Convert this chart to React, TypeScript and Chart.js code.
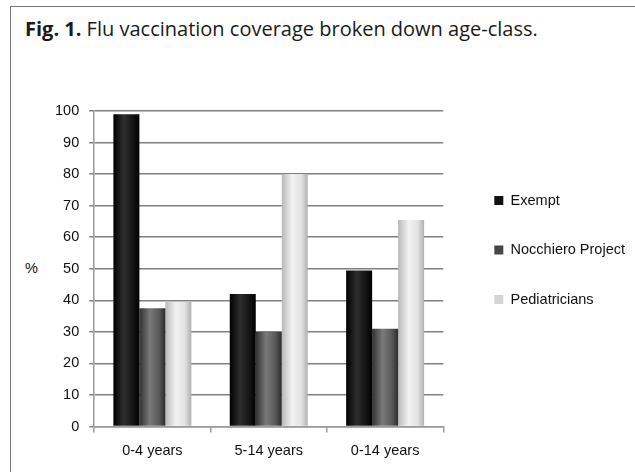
import React, { useEffect, useRef } from 'react';
import { Chart, registerables } from 'chart.js';

Chart.register(...registerables);

const categories = ['0-4 years', '5-14 years', '0-14 years'];
const seriesNames = ['Exempt', 'Nocchiero Project', 'Pediatricians'];
const exempt = [99, 42, 49.5];
const nocchiero = [37.5, 30, 31];
const pediatricians = [39.5, 80, 65.5];
const yMin = 0;
const yMax = 100;
const yStep = 10;

const solidColors = ['#111111', '#454545', '#d4d4d4'];
const cylinderStops: string[][] = [
  ['#000000', '#2e2e2e', '#151515', '#000000'],
  ['#303030', '#7a7a7a', '#5a5a5a', '#2c2c2c'],
  ['#b8b8b8', '#f2f2f2', '#e2e2e2', '#b0b0b0'],
];

const FONT = '"Liberation Sans", Arial, sans-serif';

const cylinderPlugin = {
  id: 'cylinderShade',
  beforeDatasetsDraw(chart: any) {
    const ctx = chart.ctx;
    chart.data.datasets.forEach((_: any, di: number) => {
      const meta = chart.getDatasetMeta(di);
      meta.data.forEach((bar: any) => {
        const { x, width } = bar.getProps(['x', 'width'], true);
        const g = ctx.createLinearGradient(x - width / 2, 0, x + width / 2, 0);
        const s = cylinderStops[di];
        g.addColorStop(0, s[0]);
        g.addColorStop(0.4, s[1]);
        g.addColorStop(0.75, s[2]);
        g.addColorStop(1, s[3]);
        bar.options = { ...bar.options, backgroundColor: g };
      });
    });
  },
};

export default function App() {
  const canvasRef = useRef<HTMLCanvasElement | null>(null);

  useEffect(() => {
    if (!canvasRef.current) return;
    const tickFont = { family: FONT, size: 14.5 };
    const chart = new Chart(canvasRef.current, {
      type: 'bar',
      data: {
        labels: categories,
        datasets: [
          { label: seriesNames[0], data: exempt, backgroundColor: solidColors[0] },
          { label: seriesNames[1], data: nocchiero, backgroundColor: solidColors[1] },
          { label: seriesNames[2], data: pediatricians, backgroundColor: solidColors[2] },
        ],
      },
      options: {
        animation: false,
        responsive: true,
        maintainAspectRatio: false,
        layout: { padding: { top: 30, bottom: 2, left: 45, right: 0 } },
        datasets: {
          bar: { categoryPercentage: 0.67, barPercentage: 1 },
        },
        plugins: {
          title: {
            display: true,
            text: '',
            font: { size: 10 },
            padding: { top: 0, bottom: 69 },
          },
          legend: {
            position: 'right',
            maxWidth: 177,
            labels: {
              boxWidth: 9,
              boxHeight: 9,
              padding: 35,
              color: '#111',
              font: tickFont,
            },
          },
          tooltip: { enabled: false },
        },
        scales: {
          x: {
            grid: {
              display: true,
              drawOnChartArea: false,
              drawTicks: true,
              tickLength: 6,
              color: '#9a9a9a',
              lineWidth: 1.5,
            },
            border: { color: '#9a9a9a', width: 1.5 },
            ticks: { padding: 10, color: '#111', font: tickFont },
          },
          y: {
            min: yMin,
            max: yMax,
            ticks: { stepSize: yStep, padding: 10, color: '#111', font: tickFont },
            grid: { color: '#808080', lineWidth: 1.5, tickLength: 5 },
            border: { color: '#9a9a9a', width: 1.5 },
          },
          gap: {
            type: 'linear',
            position: 'right',
            display: true,
            grid: { display: false, drawTicks: false },
            ticks: { display: false },
            border: { display: false },
            afterFit: (s: any) => {
              s.width = 16;
            },
          },
        },
      },
      plugins: [cylinderPlugin],
    } as any);
    return () => chart.destroy();
  }, []);

  return (
    <div
      style={{
        position: 'absolute',
        left: 0,
        top: 0,
        width: 635,
        height: 472,
        overflow: 'hidden',
        background: '#fff',
      }}
    >
      <div
        style={{
          position: 'absolute',
          left: 10,
          top: 6,
          width: 700,
          height: 600,
          borderLeft: '1.5px solid #777',
          borderTop: '1.5px solid #777',
        }}
      />
      <div
        style={{
          position: 'absolute',
          left: 25,
          top: 19,
          fontFamily: '"Open Sans", sans-serif',
          fontSize: 20,
          lineHeight: '20px',
          color: '#1a1a1a',
          whiteSpace: 'nowrap',
        }}
      >
        <b>Fig. 1.</b> Flu vaccination coverage broken down age-class.
      </div>
      <div
        style={{
          position: 'absolute',
          left: 25,
          top: 260,
          fontFamily: FONT,
          fontSize: 14.5,
          lineHeight: '16px',
          color: '#111',
        }}
      >
        %
      </div>
      <canvas
        ref={canvasRef}
        style={{ position: 'absolute', left: 0, top: 0, width: 635, height: 472 }}
      />
    </div>
  );
}
